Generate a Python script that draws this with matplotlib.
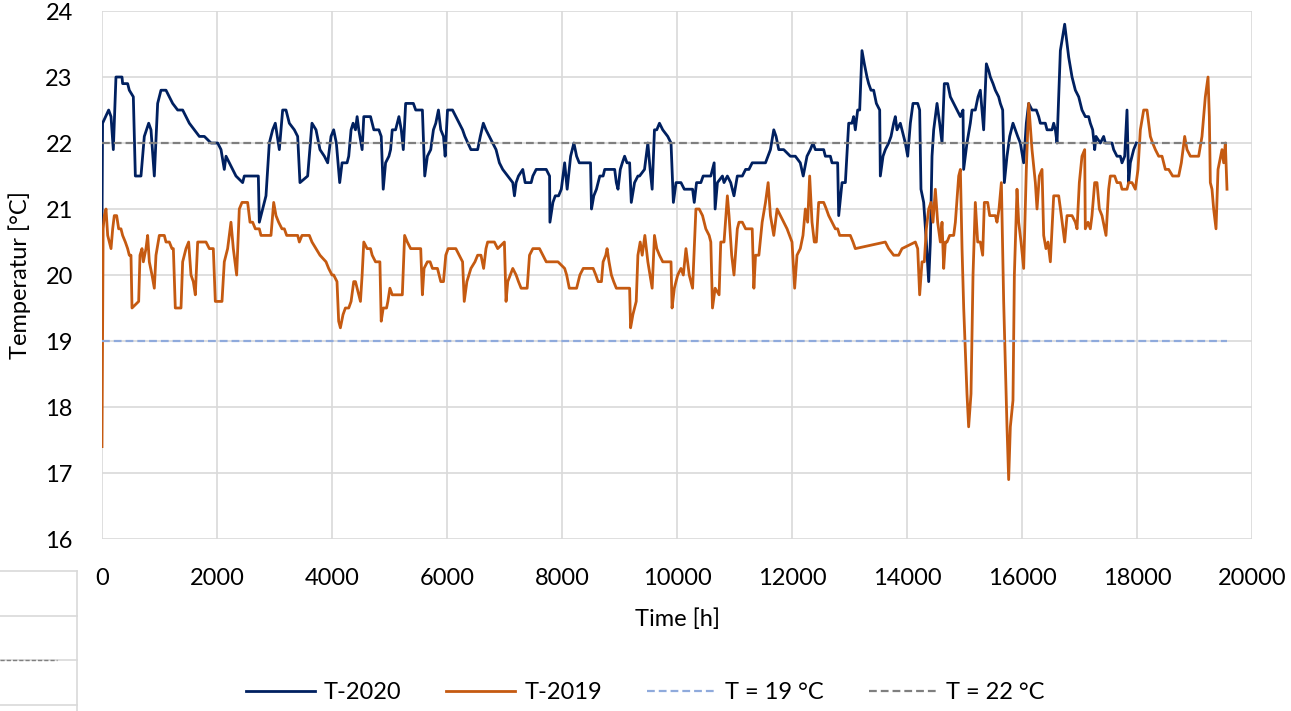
import matplotlib.pyplot as plt
from matplotlib.lines import Line2D

plt.rcParams['font.family'] = ['Lato', 'DejaVu Sans']

# T-2020 (hours, deg C)
hours_2020 = [0, 10, 116, 157, 197, 243, 348, 359, 446, 475, 545, 580, 678, 736, 812, 852, 910, 968,
              1026, 1113, 1171, 1229, 1316, 1403, 1461, 1519, 1606, 1693, 1780, 1896, 2012, 2070, 2127,
              2157, 2214, 2272, 2330, 2446, 2475, 2719, 2736, 2794, 2852, 2910, 2968, 3014, 3084, 3142,
              3200, 3258, 3345, 3403, 3443, 3577, 3652, 3722, 3791, 3867, 3925, 3983,
              4029, 4076, 4134, 4175, 4262, 4291, 4332, 4367, 4408, 4437, 4466, 4524, 4553, 4670, 4728,
              4815, 4856, 4891, 4932, 4990, 5019, 5048, 5106, 5164, 5205, 5240, 5281, 5415, 5456, 5572,
              5613, 5659, 5717, 5764, 5805, 5851, 5892, 5939, 5968, 6009, 6096, 6154, 6212, 6271, 6311,
              6416, 6533, 6579, 6632, 6678, 6736, 6795, 6853, 6911, 6969, 7057, 7144, 7173, 7202, 7243,
              7318, 7359, 7464, 7493, 7551, 7726, 7784, 7790, 7842, 7883, 7941, 7988, 8046,
              8090, 8150, 8207, 8254, 8300, 8496, 8513, 8553, 8599, 8628, 8657, 8715, 8743, 8916, 8945,
              8974, 9014, 9049, 9089, 9130, 9176, 9205, 9262, 9320, 9349, 9435, 9464, 9493, 9533, 9568,
              9608, 9648, 9695, 9752, 9839, 9896, 9937, 9983, 10069, 10127, 10271, 10300, 10340, 10415,
              10455, 10588, 10617, 10646, 10663, 10703, 10790, 10818, 10876, 10934, 10991, 11049, 11136,
              11193, 11251, 11308, 11539, 11625, 11683, 11723, 11770, 11856, 11971, 12058, 12144,
              12195, 12261, 12319, 12365, 12406, 12551, 12580, 12667, 12696, 12794, 12812, 12870, 12928,
              12986, 13043, 13072, 13101, 13142, 13177, 13217, 13258, 13304, 13333, 13374, 13420, 13467,
              13525, 13536, 13583, 13623, 13681, 13722, 13768, 13797, 13826, 13884, 13913, 13942, 13971,
              14012, 14058, 14104, 14186, 14220, 14243, 14290, 14336, 14377, 14406, 14435, 14464, 14522,
              14568, 14609, 14649, 14707, 14754, 14812, 14870, 14928, 14974, 14985, 15014, 15043, 15101,
              15130, 15188, 15235, 15275, 15304, 15333, 15380, 15420, 15449, 15496, 15536, 15594, 15623,
              15664, 15693, 15739, 15786, 15843, 15884, 15925, 15971, 16029, 16075, 16116, 16174, 16249,
              16290, 16319, 16406, 16435, 16522, 16551, 16580, 16609, 16667, 16742, 16812, 16870, 16928,
              16986, 17043, 17101, 17159, 17188, 17229, 17264, 17287, 17362, 17420, 17449, 17565, 17594,
              17652, 17710, 17739, 17786, 17826, 17855, 17884, 17942, 17988]
temp_2020 = [20.7, 22.3, 22.5, 22.4, 21.9, 23.0, 23.0, 22.9, 22.9, 22.8, 22.7, 21.5, 21.5, 22.1, 22.3, 22.2, 21.5, 22.6,
             22.8, 22.8, 22.7, 22.6, 22.5, 22.5, 22.4, 22.3, 22.2, 22.1, 22.1, 22.0, 22.0, 21.9, 21.6,
             21.8, 21.7, 21.6, 21.5, 21.4, 21.5, 21.5, 20.8, 21.0, 21.2, 22.0, 22.2, 22.3, 21.9, 22.5,
             22.5, 22.3, 22.2, 22.1, 21.4, 21.5, 22.3, 22.2, 21.9, 21.8, 21.7, 22.1,
             22.2, 22.0, 21.4, 21.7, 21.7, 21.8, 22.2, 22.3, 22.2, 22.4, 22.2, 21.9, 22.4, 22.4, 22.2,
             22.2, 22.1, 21.3, 21.7, 21.8, 21.9, 22.2, 22.2, 22.4, 22.2, 21.9, 22.6, 22.6, 22.5, 22.5,
             21.5, 21.8, 21.9, 22.2, 22.3, 22.5, 22.2, 22.1, 21.8, 22.5, 22.5, 22.4, 22.3, 22.2, 22.1,
             21.9, 21.9, 22.1, 22.3, 22.2, 22.1, 22.0, 21.9, 21.7, 21.6, 21.5, 21.4, 21.2, 21.4, 21.5,
             21.6, 21.4, 21.4, 21.5, 21.6, 21.6, 21.5, 20.8, 21.1, 21.2, 21.2, 21.3, 21.7,
             21.3, 21.8, 22.0, 21.8, 21.7, 21.7, 21.0, 21.2, 21.3, 21.4, 21.5, 21.5, 21.6, 21.6, 21.4,
             21.3, 21.6, 21.7, 21.8, 21.7, 21.7, 21.1, 21.4, 21.5, 21.5, 21.6, 21.8, 22.0, 21.6, 21.3,
             22.2, 22.2, 22.3, 22.2, 22.1, 22.0, 21.1, 21.4, 21.4, 21.3, 21.3, 21.1, 21.4, 21.4,
             21.5, 21.5, 21.6, 21.7, 21.0, 21.4, 21.5, 21.4, 21.5, 21.4, 21.2, 21.5, 21.5,
             21.6, 21.6, 21.7, 21.7, 21.9, 22.2, 22.1, 21.9, 21.9, 21.8, 21.8, 21.7,
             21.5, 21.8, 21.9, 22.0, 21.9, 21.9, 21.8, 21.8, 21.7, 21.7, 20.9, 21.4, 21.4,
             22.3, 22.3, 22.4, 22.2, 22.5, 22.5, 23.4, 23.2, 23.0, 22.9, 22.8, 22.8, 22.6,
             22.5, 21.5, 21.8, 21.9, 22.0, 22.1, 22.3, 22.4, 22.2, 22.3, 22.2, 22.1, 22.0,
             21.8, 22.3, 22.6, 22.6, 22.5, 21.3, 21.1, 20.5, 19.9, 20.5, 21.8, 22.2, 22.6,
             22.3, 22.0, 22.9, 22.9, 22.7, 22.6, 22.5, 22.4, 22.5, 21.6, 21.8, 22.0, 22.3,
             22.5, 22.5, 22.7, 22.8, 22.5, 22.2, 23.2, 23.1, 23.0, 22.9, 22.8, 22.7, 22.6,
             22.5, 21.4, 21.8, 22.1, 22.3, 22.2, 22.1, 22.0, 21.7, 22.3, 22.6, 22.5, 22.5,
             22.4, 22.3, 22.3, 22.2, 22.2, 22.3, 22.2, 22.0, 23.4, 23.8, 23.3, 23.0, 22.8,
             22.7, 22.5, 22.4, 22.4, 22.3, 22.2, 21.9, 22.1, 22.0, 22.1, 22.0, 22.0, 21.9,
             21.8, 21.8, 21.7, 21.8, 22.5, 21.4, 21.7, 21.9, 22.0]

# T-2019
hours_2019 = [0, 20, 41, 70, 99, 128, 157, 186, 214, 255, 290, 330, 359, 406, 446, 475, 504, 522, 638, 661,
              696, 719, 765, 794, 823, 870, 910, 939, 997, 1084, 1113, 1171, 1217, 1241, 1275, 1374, 1403,
              1432, 1461, 1507, 1548, 1588, 1623, 1664, 1809, 1867, 1936, 1971, 2087, 2127, 2185, 2214,
              2243, 2284, 2342, 2388, 2435, 2533, 2574, 2620, 2667, 2736, 2765, 2939, 2986, 3026, 3072,
              3130, 3171, 3212, 3403, 3432, 3478, 3606, 3652, 3722, 3791, 3896, 3942, 4000,
              4029, 4087, 4116, 4146, 4192, 4233, 4291, 4332, 4378, 4408, 4437, 4466, 4495, 4524, 4553,
              4611, 4670, 4699, 4757, 4833, 4856, 4891, 4949, 4972, 5007, 5048, 5135, 5223, 5263, 5310,
              5368, 5543, 5572, 5601, 5659, 5706, 5747, 5834, 5892, 5939, 5979, 6020, 6154, 6212, 6271,
              6300, 6346, 6416, 6486, 6533, 6591, 6637, 6678, 6707, 6824, 6882, 6998, 7027, 7057, 7144,
              7202, 7243, 7289, 7394, 7435, 7493, 7609, 7667, 7726, 7930, 8046,
              8081, 8127, 8254, 8311, 8369, 8542, 8588, 8628, 8686, 8715, 8761, 8784, 8818, 8859, 8899,
              8945, 9176, 9193, 9233, 9291, 9320, 9360, 9395, 9441, 9493, 9568, 9608, 9648, 9695, 9752,
              9896, 9914, 9954, 10012, 10069, 10110, 10156, 10213, 10271, 10329, 10386, 10444, 10501,
              10559, 10588, 10617, 10663, 10732, 10761, 10818, 10876, 10905, 10951, 10991, 11049, 11078,
              11136, 11193, 11308, 11337, 11366, 11424, 11481, 11539, 11585, 11625, 11683, 11741, 11798,
              11856, 11914, 12000, 12046, 12087, 12144,
              12191, 12232, 12272, 12307, 12348, 12388, 12423, 12464, 12551, 12597, 12638, 12696, 12754,
              12794, 12829, 13014, 13061, 13101, 13623, 13681, 13768, 13855, 13913, 14145, 14186, 14220,
              14261, 14301, 14336, 14377, 14417, 14452, 14493, 14533, 14580, 14609, 14638, 14667, 14696,
              14742, 14812, 14841, 14899, 14928, 14957, 14986, 15043, 15072, 15113, 15148, 15188, 15229,
              15275, 15316, 15345, 15403, 15438, 15478, 15536, 15565, 15600, 15641, 15681, 15739, 15768,
              15797, 15843, 15867, 15913, 15942, 15983, 16029, 16075, 16116, 16174, 16232,
              16261, 16301, 16348, 16377, 16417, 16452, 16493, 16551, 16638, 16684, 16742, 16783, 16870,
              16928, 16957, 16997, 17043, 17090, 17101, 17148, 17188, 17217, 17264, 17304, 17345, 17391,
              17461, 17507, 17536, 17612, 17652, 17710, 17739, 17826, 17855, 17913, 17971, 18017, 18058,
              18116, 18174, 18232, 18272, 18319, 18377, 18435, 18493, 18551, 18620, 18725, 18771, 18829,
              18870, 18928, 19072, 19130, 19188, 19235, 19258, 19275, 19304, 19333, 19374, 19409, 19432,
              19478, 19507, 19536, 19565]
temp_2019 = [17.4, 20.7, 20.9, 21.0, 20.6, 20.5, 20.4, 20.7, 20.9, 20.9, 20.7, 20.7, 20.6, 20.5, 20.4, 20.3, 20.3, 19.5, 19.6, 20.3,
             20.4, 20.2, 20.4, 20.6, 20.2, 20.0, 19.8, 20.3, 20.6, 20.6, 20.5, 20.5, 20.4, 20.4, 19.5, 19.5, 20.2,
             20.3, 20.4, 20.5, 20.0, 19.9, 19.7, 20.5, 20.5, 20.4, 20.4, 19.6, 19.6, 20.2, 20.4, 20.6,
             20.8, 20.4, 20.0, 21.0, 21.1, 21.1, 20.8, 20.8, 20.7, 20.7, 20.6, 20.6, 21.1, 20.9, 20.8,
             20.7, 20.7, 20.6, 20.6, 20.5, 20.6, 20.6, 20.5, 20.4, 20.3, 20.2, 20.1, 20.0,
             20.0, 19.9, 19.3, 19.2, 19.4, 19.5, 19.5, 19.6, 19.9, 19.9, 19.8, 19.7, 19.6, 20.0, 20.5,
             20.4, 20.4, 20.3, 20.2, 20.2, 19.3, 19.5, 19.5, 19.6, 19.8, 19.7, 19.7, 19.7, 20.6, 20.5,
             20.4, 20.4, 19.7, 20.1, 20.2, 20.2, 20.1, 20.1, 19.9, 19.9, 20.3, 20.4, 20.4, 20.3, 20.2,
             19.6, 19.9, 20.1, 20.2, 20.3, 20.3, 20.1, 20.4, 20.5, 20.5, 20.4, 20.5, 19.6, 19.9, 20.1,
             20.0, 19.9, 19.8, 19.8, 20.3, 20.4, 20.4, 20.3, 20.2, 20.2, 20.1,
             20.0, 19.8, 19.8, 20.0, 20.1, 20.1, 20.0, 19.9, 19.9, 20.2, 20.3, 20.4, 20.2, 20.0, 19.9,
             19.8, 19.8, 19.2, 19.4, 19.6, 20.3, 20.5, 20.3, 20.6, 20.2, 19.8, 20.6, 20.4, 20.3, 20.2,
             20.2, 19.5, 19.8, 20.0, 20.1, 20.0, 20.4, 20.0, 19.8, 21.0, 21.0, 20.9, 20.7,
             20.6, 20.5, 19.5, 19.8, 19.7, 20.5, 20.5, 21.2, 20.9, 20.3, 20.0, 20.7, 20.8,
             20.8, 20.7, 20.7, 19.8, 20.3, 20.3, 20.8, 21.1, 21.4, 20.9, 20.6, 21.0, 20.9,
             20.8, 20.7, 20.5, 19.8, 20.3, 20.4,
             20.6, 21.0, 20.8, 21.5, 20.8, 20.5, 20.5, 21.1, 21.1, 21.0, 20.9, 20.8, 20.7,
             20.7, 20.6, 20.6, 20.5, 20.4, 20.5, 20.4, 20.3, 20.3, 20.4, 20.5, 20.4, 19.7,
             20.2, 20.2, 20.7, 21.0, 21.1, 20.8, 21.3, 20.8, 20.5, 20.8, 20.1, 20.5, 20.5,
             20.6, 20.6, 20.8, 21.5, 21.6, 20.4, 19.5, 18.2, 17.7, 18.2, 20.0, 21.1, 20.5,
             20.5, 20.3, 21.1, 21.1, 20.9, 20.9, 20.9, 20.8, 21.0, 21.4, 19.6, 17.7, 16.9,
             17.7, 18.1, 20.0, 21.3, 20.8, 20.5, 20.1, 21.6, 22.6, 21.9, 21.4,
             21.0, 21.5, 21.6, 20.6, 20.4, 20.5, 20.2, 21.2, 21.2, 20.9, 20.5, 20.9, 20.9,
             20.8, 20.7, 21.4, 21.8, 21.9, 20.7, 20.8, 20.7, 20.9, 21.4, 21.4, 21.0, 20.9,
             20.6, 21.3, 21.5, 21.5, 21.4, 21.4, 21.3, 21.3, 21.4, 21.4, 21.3, 21.6, 22.2,
             22.5, 22.5, 22.1, 22.0, 21.9, 21.8, 21.8, 21.6, 21.6, 21.5, 21.5, 21.7, 22.1,
             21.9, 21.8, 21.8, 22.1, 22.7, 23.0, 22.4, 21.4, 21.3, 21.0, 20.7, 21.6, 21.7,
             21.9, 21.7, 22.0, 21.3]

# reference temperatures
ref_hours = [0, 19565]
ref_19 = [19, 19]
ref_22 = [22, 22]

fig = plt.figure(figsize=(12.91, 7.11), dpi=100)
ax = fig.add_axes([0.079, 0.2419, 0.8908, 0.7426])

ax.plot(hours_2020, temp_2020, color='#002060', lw=2.0, label='T-2020')
ax.plot(hours_2019, temp_2019, color='#C55A11', lw=2.0, label='T-2019')
ax.plot(ref_hours, ref_19, color='#8FAADC', lw=1.6, dashes=(3.5, 1.8), label='T = 19 °C')
ax.plot(ref_hours, ref_22, color='#7F7F7F', lw=1.6, dashes=(3.5, 1.8), label='T = 22 °C')

ax.set_xlim(0, 20000)
ax.set_ylim(16, 24)
ax.set_xticks(range(0, 20001, 2000))
ax.set_yticks(range(16, 25))
ax.grid(True, color='#D9D9D9', lw=1.2)
ax.set_axisbelow(True)
for s in ax.spines.values():
    s.set_visible(False)
ax.tick_params(length=0, labelsize=17, colors='black')
ax.tick_params(axis='y', pad=21)
ax.tick_params(axis='x', pad=21)
ax.set_xlabel('Time [h]', fontsize=17, labelpad=14)
ax.set_ylabel('Temperatur [°C]', fontsize=17, labelpad=10)

fig.legend(loc='center', bbox_to_anchor=(0.5, 0.026), ncol=4, frameon=False, fontsize=17,
           handlelength=2.9, handletextpad=0.4, columnspacing=1.9)

# leftover cell borders at the bottom left of the original picture
px = lambda x, y: (x / 1291, 1 - y / 711)
for yy in [571, 616, 660, 705]:
    (x0, y0), (x1, y1) = px(0, yy), px(77, yy)
    fig.add_artist(Line2D([x0, x1], [y0, y1], transform=fig.transFigure, color='#D9D9D9', lw=1.2))
(x0, y0), (x1, y1) = px(77, 571), px(77, 711)
fig.add_artist(Line2D([x0, x1], [y0, y1], transform=fig.transFigure, color='#D9D9D9', lw=1.2))
(x0, y0), (x1, y1) = px(0, 660), px(57, 660)
fig.add_artist(Line2D([x0, x1], [y0, y1], transform=fig.transFigure, color='#7F7F7F', lw=1.0,
                      dashes=(3, 1.5)))

fig.savefig('out.png', dpi=100)
